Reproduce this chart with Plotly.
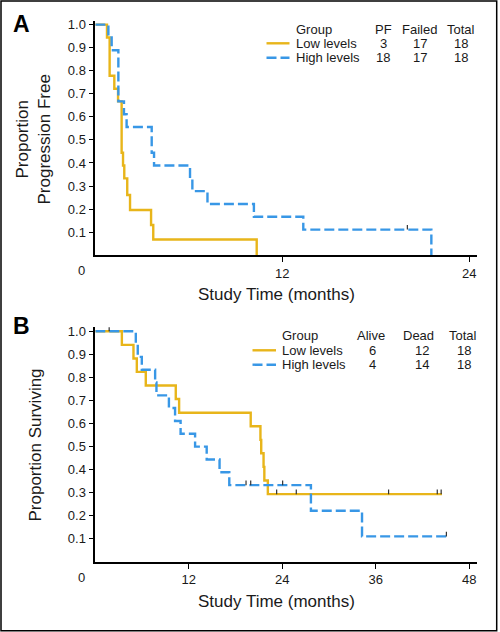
import plotly.graph_objects as go

# ---------------- Data ----------------
# Panel A: progression-free
a_low_t = [0, 0.75, 0.92, 1.22, 1.46, 1.69, 1.78, 1.86, 2.05, 2.23, 3.58, 3.72, 10.36]
a_low_v = [1.0, 0.944, 0.778, 0.722, 0.667, 0.444, 0.389, 0.333, 0.261, 0.196, 0.131, 0.068, 0.0]
a_high_t = [0, 0.84, 1.05, 1.48, 1.84, 2.01, 3.62, 3.77, 6.08, 6.23, 7.2, 10.18, 13.35, 21.57]
a_high_v = [1.0, 0.944, 0.889, 0.667, 0.611, 0.556, 0.444, 0.389, 0.333, 0.278, 0.222, 0.167, 0.111, 0.0]
a_high_cens_t = [20.03]
a_high_cens_v = [0.111]

# Panel B: survival
b_low_t = [0, 3.41, 4.9, 5.33, 6.48, 10.33, 10.76, 19.95, 21.2, 21.3, 21.6, 21.7, 22.15, 44.5]
b_low_v = [1.0, 0.941, 0.882, 0.824, 0.765, 0.706, 0.647, 0.588, 0.529, 0.471, 0.412, 0.353, 0.294, 0.294]
b_low_cens_t = [1.78, 23.28, 25.8, 37.65, 43.9, 44.4]
b_low_cens_v = [1.0, 0.294, 0.294, 0.294, 0.294, 0.294]
b_high_t = [0, 5.2, 5.45, 5.97, 7.68, 7.85, 9.45, 10.24, 10.95, 12.81, 14.3, 15.95, 17.2, 27.68, 34.24, 45.07]
b_high_v = [1.0, 0.944, 0.889, 0.833, 0.778, 0.722, 0.667, 0.611, 0.556, 0.5, 0.444, 0.389, 0.333, 0.222, 0.111, 0.111]
b_high_cens_t = [19.35, 19.95, 24.05, 45.07]
b_high_cens_v = [0.333, 0.333, 0.333, 0.111]

y_ticks = [0.1, 0.2, 0.3, 0.4, 0.5, 0.6, 0.7, 0.8, 0.9, 1.0]
a_x_ticks = [12, 24]
b_x_ticks = [12, 24, 36, 48]

a_legend_groups = ["Low levels", "High levels"]
a_legend_headers = ["PF", "Failed", "Total"]
a_legend_rows = [["3", "17", "18"], ["18", "17", "18"]]
b_legend_groups = ["Low levels", "High levels"]
b_legend_headers = ["Alive", "Dead", "Total"]
b_legend_rows = [["6", "12", "18"], ["4", "14", "18"]]

# ---------------- Styling ----------------
W, H = 500, 632
YEL = "#E8B51A"
BLU = "#3897E6"
TXT = "#1a1a1a"
COND = "Liberation Sans, Arial, Helvetica, sans-serif"
REG = "Liberation Sans, Arial, Helvetica, sans-serif"


def px(x):
    return x / W


def py(y):
    return 1 - y / H


def cens_segments(ts, vs, h=0.02):
    xs, ys = [], []
    for t, v in zip(ts, vs):
        xs += [t, t, None]
        ys += [v, v + h, None]
    return xs, ys


fig = go.Figure()

# Panel A
fig.add_trace(go.Scatter(x=a_low_t, y=a_low_v, mode="lines", line=dict(color=YEL, width=2.4, shape="hv"),
                         xaxis="x", yaxis="y", showlegend=False))
fig.add_trace(go.Scatter(x=a_high_t, y=a_high_v, mode="lines",
                         line=dict(color=BLU, width=2.4, shape="hv", dash="10px,4px"),
                         xaxis="x", yaxis="y", showlegend=False))
cx, cy = cens_segments(a_high_cens_t, a_high_cens_v)
fig.add_trace(go.Scatter(x=cx, y=cy, mode="lines", line=dict(color="#333", width=1.2),
                         xaxis="x", yaxis="y", showlegend=False))

# Panel B
fig.add_trace(go.Scatter(x=b_low_t, y=b_low_v, mode="lines", line=dict(color=YEL, width=2.4, shape="hv"),
                         xaxis="x2", yaxis="y2", showlegend=False))
fig.add_trace(go.Scatter(x=b_high_t, y=b_high_v, mode="lines",
                         line=dict(color=BLU, width=2.4, shape="hv", dash="10px,4px"),
                         xaxis="x2", yaxis="y2", showlegend=False))
cx, cy = cens_segments(b_low_cens_t, b_low_cens_v)
fig.add_trace(go.Scatter(x=cx, y=cy, mode="lines", line=dict(color="#333", width=1.2),
                         xaxis="x2", yaxis="y2", showlegend=False))
cx, cy = cens_segments(b_high_cens_t, b_high_cens_v)
fig.add_trace(go.Scatter(x=cx, y=cy, mode="lines", line=dict(color="#333", width=1.2),
                         xaxis="x2", yaxis="y2", showlegend=False))

axis_common = dict(showgrid=False, zeroline=False, showline=True, linecolor="black", linewidth=1.5,
                   ticks="outside", ticklen=5, tickwidth=1.2, tickcolor="black",
                   tickfont=dict(family=REG, size=13, color=TXT))

xdom = [px(95.3), px(477)]
fig.update_layout(
    width=W, height=H, margin=dict(l=0, r=0, t=0, b=0, autoexpand=False),
    paper_bgcolor="white", plot_bgcolor="white",
    xaxis=dict(domain=xdom, range=[0, 24.5], tickvals=a_x_ticks, anchor="y", **axis_common),
    yaxis=dict(domain=[py(255.2), py(20.7)], range=[0, 1.017], tickvals=y_ticks, tickformat=".1f",
               anchor="x", **axis_common),
    xaxis2=dict(domain=xdom, range=[0, 49], tickvals=b_x_ticks, anchor="y2", **axis_common),
    yaxis2=dict(domain=[py(562.0), py(327.3)], range=[0, 1.017], tickvals=y_ticks, tickformat=".1f",
                anchor="x2", **axis_common),
)

ann = []
shapes = []


def text(x, y, s, size=13, family=REG, angle=0, xa="center", color=TXT):
    ann.append(dict(x=px(x), y=py(y), xref="paper", yref="paper", text=s, showarrow=False,
                    xanchor=xa, yanchor="middle", textangle=angle,
                    font=dict(family=family, size=size, color=color)))


# zero labels
for xr, yr in [("x", "y"), ("x2", "y2")]:
    ann.append(dict(x=0, y=0, xref=xr, yref=yr, text="0", showarrow=False, xshift=-14, yshift=-15,
                    xanchor="center", yanchor="middle",
                    font=dict(family=REG, size=13, color=TXT)))

# panel letters
text(21.5, 24, "<b>A</b>", size=23, color="black")
text(21.5, 326, "<b>B</b>", size=23, color="black")

# axis titles
text(276, 294.5, "Study Time (months)", size=17, family=COND)
text(276, 601, "Study Time (months)", size=17, family=COND)
text(33.5, 140, "Proportion<br>Progression Free", size=17, family=COND, angle=-90)
text(35, 445.5, "Proportion Surviving", size=17, family=COND, angle=-90)


def legend(groups, headers, rows, x_sample0, x_sample1, x_text, col_hdr_x, col_num_x, ys):
    text(x_text, ys[0], "Group", xa="left")
    for hx, h in zip(col_hdr_x, headers):
        text(hx, ys[0], h)
    for i, (g, r) in enumerate(zip(groups, rows)):
        yy = ys[i + 1]
        text(x_text, yy, g, xa="left")
        for nx, n in zip(col_num_x, r):
            text(nx, yy, n)
        col = YEL if i == 0 else BLU
        dash = "solid" if i == 0 else "10px,4px"
        shapes.append(dict(type="line", xref="paper", yref="paper", x0=px(x_sample0), x1=px(x_sample1),
                           y0=py(yy), y1=py(yy), line=dict(color=col, width=2.4, dash=dash)))


legend(a_legend_groups, a_legend_headers, a_legend_rows, 266.5, 289.5, 293.5,
       [383, 419.5, 461], [383, 419.5, 461], [29.3, 43.3, 57.7])
legend(b_legend_groups, b_legend_headers, b_legend_rows, 252.5, 276, 280,
       [371, 418.7, 463], [372.7, 421.7, 464.3], [336, 350.3, 364.7])

# outer frame
shapes.append(dict(type="rect", xref="paper", yref="paper", x0=px(1), x1=px(496.7), y0=py(630.7), y1=py(1),
                   line=dict(color="black", width=1.5)))

fig.update_layout(annotations=ann, shapes=shapes)
fig.write_html("out.html", config={"displayModeBar": False},
               post_script="document.body.style.margin='0';document.body.style.padding='0';")
